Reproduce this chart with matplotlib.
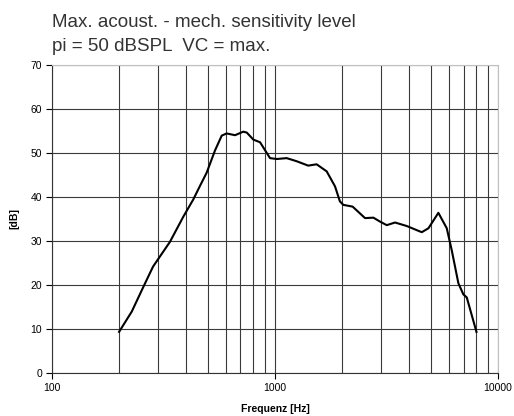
import matplotlib.pyplot as plt
import matplotlib.ticker as mticker

freq = [200, 228, 257, 284, 338, 388, 430, 461, 494, 538, 577, 607, 662, 721,
        747, 800, 857, 950, 1018, 1128, 1250, 1409, 1537, 1705, 1858, 1954,
        2025, 2229, 2533, 2761, 2958, 3170, 3453, 3899, 4550, 4875, 5400,
        5888, 6200, 6640, 6990, 7240, 8000]
level = [9.4, 14.0, 19.6, 24.2, 29.8, 35.5, 39.4, 42.5, 45.5, 50.5, 53.9,
         54.4, 54.0, 54.8, 54.6, 53.0, 52.4, 48.8, 48.6, 48.8, 48.1, 47.1,
         47.4, 45.8, 42.4, 39.0, 38.2, 37.8, 35.2, 35.3, 34.4, 33.6, 34.2,
         33.4, 32.0, 32.9, 36.4, 32.9, 27.9, 20.4, 17.9, 17.2, 9.4]

plt.rcParams['font.family'] = ['Liberation Sans', 'DejaVu Sans']

fig = plt.figure(figsize=(5.14, 4.16), dpi=100)
ax = fig.add_axes([0.101, 0.1026, 0.868, 0.742])

ax.plot(freq, level, color='black', lw=1.5, zorder=3)

ax.set_xscale('log')
ax.set_xlim(100, 10000)
ax.set_ylim(0, 70)
ax.set_yticks(range(0, 71, 10))
ax.xaxis.set_major_locator(mticker.FixedLocator([100, 1000, 10000]))
ax.xaxis.set_major_formatter(mticker.FixedFormatter(['100', '1000', '10000']))
ax.xaxis.set_minor_locator(mticker.LogLocator(base=10, subs=range(2, 10)))
ax.xaxis.set_minor_formatter(mticker.NullFormatter())

ax.grid(which='both', axis='x', color='#3a3a3a', lw=0.8)
ax.grid(which='major', axis='y', color='#3a3a3a', lw=0.8)
ax.tick_params(axis='x', which='minor', length=0)
ax.tick_params(which='major', length=4, width=0.8, labelsize=7.5, pad=3)

for s in ['top', 'right']:
    ax.spines[s].set_color('#c0c0c0')
for s in ['left', 'bottom']:
    ax.spines[s].set_color('#333333')
    ax.spines[s].set_linewidth(0.8)

ax.set_xlabel('Frequenz [Hz]', fontsize=7.5, fontweight='bold', labelpad=8)
ax.set_ylabel('[dB]', fontsize=7.5, fontweight='bold', labelpad=8)

fig.text(0.101, 0.935, 'Max. acoust. - mech. sensitivity level',
         fontsize=13.5, color='#333333', va='baseline')
fig.text(0.101, 0.877, 'pi = 50 dBSPL  VC = max.',
         fontsize=13.5, color='#333333', va='baseline')

fig.savefig('out.png', dpi=100)
